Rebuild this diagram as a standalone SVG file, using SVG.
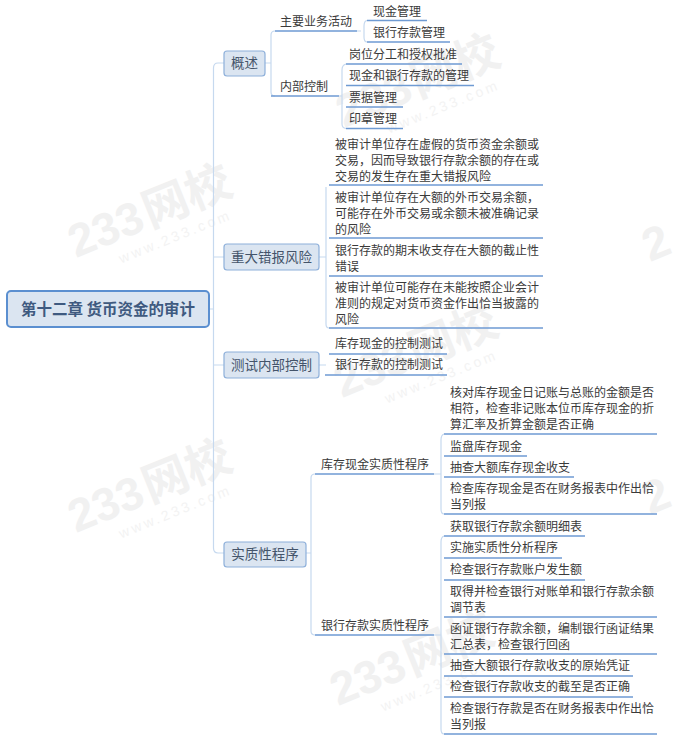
<svg xmlns="http://www.w3.org/2000/svg" width="675" height="741" viewBox="0 0 675 741">
<style>
text{font-family:"Noto Sans CJK SC","Liberation Sans",sans-serif;fill:#3a3a3a}
.t{font-size:12px}
.c{font-size:13.5px;fill:#44546a;text-anchor:middle}
.r{font-size:15.500px;font-weight:700;fill:#3f5a80;text-anchor:middle}
.cat{fill:#dbe5f1;stroke:#8eb0da;stroke-width:1.2}
.u{stroke:#6f9bd3;stroke-width:1.3;fill:none}
.b{stroke:#c6d9ef;stroke-width:1.2;fill:none}
.wm{font-family:"Liberation Sans",sans-serif;font-size:46px;font-weight:700;fill:#f1f1f1}
.wmc{font-family:"Noto Sans CJK SC",sans-serif;font-size:46px;font-weight:700;fill:#f1f1f1}
.wm2{font-family:"Liberation Sans",sans-serif;font-size:14px;letter-spacing:3px;fill:#f3f3f3}
</style>
<rect width="675" height="741" fill="#ffffff"/>
<g id="watermarks">
<g transform="translate(76,258) rotate(-22)"><text class="wm">233</text><text class="wmc" x="80">网校</text><text class="wm2" x="40" y="22">www.233.com</text></g>
<g transform="translate(344,128) rotate(-22)"><text class="wm">233</text><text class="wmc" x="80">网校</text><text class="wm2" x="40" y="22">www.233.com</text></g>
<g transform="translate(342,398) rotate(-22)"><text class="wm">233</text><text class="wmc" x="80">网校</text><text class="wm2" x="40" y="22">www.233.com</text></g>
<g transform="translate(76,533) rotate(-22)"><text class="wm">233</text><text class="wmc" x="80">网校</text><text class="wm2" x="40" y="22">www.233.com</text></g>
<g transform="translate(338,706) rotate(-22)"><text class="wm">233</text><text class="wmc" x="80">网校</text><text class="wm2" x="40" y="22">www.233.com</text></g>
<g transform="translate(650,262) rotate(-22)"><text class="wm">2</text></g>
<g transform="translate(650,515) rotate(-22)"><text class="wm">2</text></g>
</g>
<g id="connectors">
<path class="b" d="M209 309H213.500M224 63H218Q213.500 63 213.500 68V548Q213.500 553 218 553H224M213.500 257H224M213.500 365H224"/>
<path class="b" d="M265 63H271M275 31Q271 31 271 35V92Q271 96 275 96M326 257H319M326 187V324Q326 328 329 328M326 365H319M306 553H311M315 474Q311 474 311 478V631Q311 635 315 635"/>
<path class="b" d="M357 31H361M367 20.500Q364 21 364 26V37Q364 42 367 42"/>
<path class="b" d="M339 96H342M346 64Q342 65 342 70V124Q342 128 346 128.500"/>
<path class="b" d="M434 474H441M444 434Q441 435 441 440V509Q441 514 444 514"/>
<path class="b" d="M434 635H441M444 536Q441 537 441 542V729Q441 734 444 734"/>
<path class="u" d="M275 31H357M271 96H339M367 20.500H427M367 42H450M346 64H462M346 85.500H474M346 107H403M346 128.500H403"/>
<path class="u" d="M329 185H543M329 238H543M329 276H543M329 328H543M329 354H447M325 375H447"/>
<path class="u" d="M315 474H434M315 635H434"/>
<path class="u" d="M444 434H657M444 456H527M444 477H574M444 514H657M444 536H585M444 558H562M444 580H585M444 617H657M444 654H657M444 676H633M444 697H633M444 734H657"/>
</g>
<g id="root"><rect x="7" y="291" width="202" height="36" rx="4" fill="#dbe5f1" stroke="#5b8fd0" stroke-width="2"/><text class="r" x="108" y="315">第十二章 货币资金的审计</text></g>
<g id="cat-overview"><rect class="cat" x="224" y="51" width="41" height="25" rx="3"/><text class="c" x="244.500" y="68">概述</text></g>
<g id="cat-risk"><rect class="cat" x="224" y="244" width="95" height="26" rx="3"/><text class="c" x="271.500" y="262">重大错报风险</text></g>
<g id="cat-test"><rect class="cat" x="224" y="352" width="95" height="26" rx="3"/><text class="c" x="271.500" y="370">测试内部控制</text></g>
<g id="cat-subst"><rect class="cat" x="224" y="542" width="82" height="25" rx="3"/><text class="c" x="265" y="559">实质性程序</text></g>
<g id="n-main"><text class="t" x="280" y="26">主要业务活动</text></g>
<g id="n-internal"><text class="t" x="280" y="91">内部控制</text></g>
<g id="n-cash"><text class="t" x="373" y="16">现金管理</text></g>
<g id="n-bank"><text class="t" x="373" y="37">银行存款管理</text></g>
<g id="n-ic1"><text class="t" x="349" y="59">岗位分工和授权批准</text></g>
<g id="n-ic2"><text class="t" x="349" y="80">现金和银行存款的管理</text></g>
<g id="n-ic3"><text class="t" x="349" y="102">票据管理</text></g>
<g id="n-ic4"><text class="t" x="349" y="123">印章管理</text></g>
<g id="n-r1"><text class="t" x="335" y="149">被审计单位存在虚假的货币资金余额或</text><text class="t" x="335" y="165">交易，因而导致银行存款余额的存在或</text><text class="t" x="335" y="181">交易的发生存在重大错报风险</text></g>
<g id="n-r2"><text class="t" x="335" y="202">被审计单位存在大额的外币交易余额，</text><text class="t" x="335" y="218">可能存在外币交易或余额未被准确记录</text><text class="t" x="335" y="234">的风险</text></g>
<g id="n-r3"><text class="t" x="335" y="255">银行存款的期末收支存在大额的截止性</text><text class="t" x="335" y="271">错误</text></g>
<g id="n-r4"><text class="t" x="335" y="292">被审计单位可能存在未能按照企业会计</text><text class="t" x="335" y="308">准则的规定对货币资金作出恰当披露的</text><text class="t" x="335" y="324">风险</text></g>
<g id="n-t1"><text class="t" x="335" y="348">库存现金的控制测试</text></g>
<g id="n-t2"><text class="t" x="335" y="369">银行存款的控制测试</text></g>
<g id="n-s1"><text class="t" x="321" y="469">库存现金实质性程序</text></g>
<g id="n-s2"><text class="t" x="321" y="630">银行存款实质性程序</text></g>
<g id="n-a1"><text class="t" x="450" y="397">核对库存现金日记账与总账的金额是否</text><text class="t" x="450" y="413">相符，检查非记账本位币库存现金的折</text><text class="t" x="450" y="429">算汇率及折算金额是否正确</text></g>
<g id="n-a2"><text class="t" x="450" y="451">监盘库存现金</text></g>
<g id="n-a3"><text class="t" x="450" y="472">抽查大额库存现金收支</text></g>
<g id="n-a4"><text class="t" x="450" y="493">检查库存现金是否在财务报表中作出恰</text><text class="t" x="450" y="509">当列报</text></g>
<g id="n-b1"><text class="t" x="450" y="531">获取银行存款余额明细表</text></g>
<g id="n-b2"><text class="t" x="450" y="552">实施实质性分析程序</text></g>
<g id="n-b3"><text class="t" x="450" y="574">检查银行存款账户发生额</text></g>
<g id="n-b4"><text class="t" x="450" y="596">取得并检查银行对账单和银行存款余额</text><text class="t" x="450" y="612">调节表</text></g>
<g id="n-b5"><text class="t" x="450" y="633">函证银行存款余额，编制银行函证结果</text><text class="t" x="450" y="649">汇总表，检查银行回函</text></g>
<g id="n-b6"><text class="t" x="450" y="670">抽查大额银行存款收支的原始凭证</text></g>
<g id="n-b7"><text class="t" x="450" y="691">检查银行存款收支的截至是否正确</text></g>
<g id="n-b8"><text class="t" x="450" y="713">检查银行存款是否在财务报表中作出恰</text><text class="t" x="450" y="729">当列报</text></g>
</svg>
